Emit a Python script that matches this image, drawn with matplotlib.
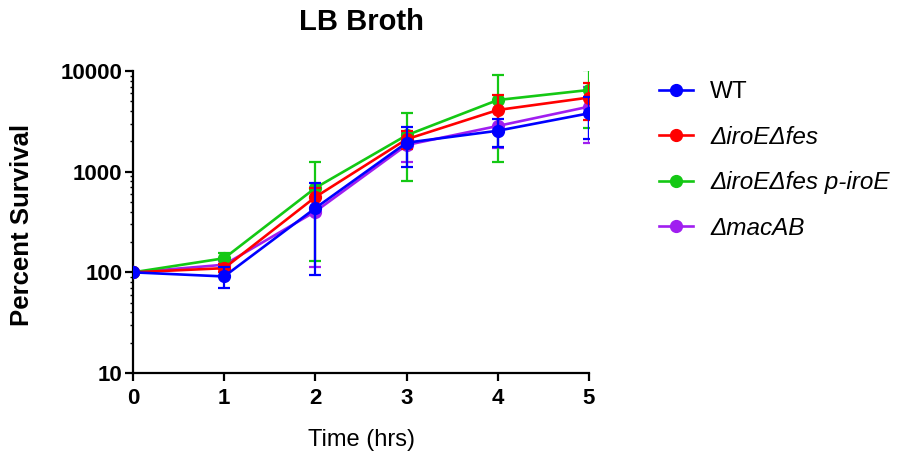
import matplotlib
matplotlib.use("Agg")
import matplotlib.pyplot as plt
from matplotlib.ticker import FixedLocator, FixedFormatter, LogLocator, NullFormatter
from matplotlib.lines import Line2D
import numpy as np

plt.rcParams['font.family'] = ['Liberation Sans', 'DejaVu Sans']

time_hrs = [0, 1, 2, 3, 4, 5]
series_names = ["WT", "ΔiroEΔfes", "ΔiroEΔfes p-iroE", "ΔmacAB"]
wt_mean = [100, 91, 435, 1940, 2550, 3800]
wt_sd = [0, 21, 340, 820, 800, 1700]
dfes_mean = [100, 110, 560, 2100, 4100, 5450]
dfes_sd = [0, 10, 125, 420, 1680, 2200]
comp_mean = [100, 138, 690, 2300, 5150, 6480]
comp_sd = [0, 17, 560, 1500, 3900, 3760]
mac_mean = [100, 119, 402, 1840, 2845, 4425]
mac_sd = [0, 10, 290, 585, 1110, 2495]
y_ticks = [10, 100, 1000, 10000]
y_tick_labels = ["10", "100", "1000", "10000"]
x_tick_labels = ["0", "1", "2", "3", "4", "5"]

colors = ["#0000FF", "#FF0000", "#14C814", "#A01EF0"]
means = [wt_mean, dfes_mean, comp_mean, mac_mean]
sds = [wt_sd, dfes_sd, comp_sd, mac_sd]

fig = plt.figure(figsize=(9.01, 4.68), dpi=100)
ax = fig.add_axes([133/901, 1-373/468, 456/901, 302/468])

for i in [3, 2, 1, 0]:
    m = np.array(means[i], dtype=float)
    s = np.array(sds[i], dtype=float)
    low = np.minimum(s, m - 1e-3)
    ax.errorbar(time_hrs, m, yerr=[low, s], color=colors[i], lw=1.9,
                marker='o', ms=8.5, capsize=4.3, capthick=1.6, elinewidth=1.6,
                zorder=3 + (3 - i), clip_on=True)

ax.set_yscale('log')
ax.set_ylim(10, 10000)
ax.set_xlim(0, 5)
ax.yaxis.set_major_locator(FixedLocator(y_ticks))
ax.yaxis.set_major_formatter(FixedFormatter(y_tick_labels))
ax.yaxis.set_minor_locator(LogLocator(base=10, subs=np.arange(2, 10)))
ax.yaxis.set_minor_formatter(NullFormatter())
ax.set_xticks(time_hrs)
ax.set_xticklabels(x_tick_labels)

for sp in ['top', 'right']:
    ax.spines[sp].set_visible(False)
for sp in ['left', 'bottom']:
    ax.spines[sp].set_linewidth(1.6)
ax.tick_params(axis='both', which='major', length=5.5, width=1.6, labelsize=16)
ax.tick_params(axis='y', which='major', pad=2)
ax.tick_params(axis='x', which='major', pad=5)
ax.tick_params(axis='y', which='minor', length=2.2, width=1.0)
for lab in ax.get_xticklabels() + ax.get_yticklabels():
    lab.set_fontweight('bold')

fig.text(361/901, 1-22/468, "LB Broth", ha='center', va='center', fontsize=21, fontweight='bold')
fig.text(22/901, 1-225/468, "Percent Survival", ha='center', va='center', rotation=90,
         fontsize=18.5, fontweight='bold')
fig.text(362/901, 1-440/468, "Time (hrs)", ha='center', va='center', fontsize=17)

proxies = [Line2D([], [], color=c, lw=1.9, marker='o', ms=8.5) for c in colors]
leg = fig.legend(proxies, series_names,
                 loc='upper left', bbox_to_anchor=(659/901, 1-81/468), frameon=False,
                 fontsize=17.5, handlelength=1.4, handletextpad=0.7, labelspacing=0.93,
                 borderaxespad=0, borderpad=0)
for i, t in enumerate(leg.get_texts()):
    if i > 0:
        t.set_fontstyle('italic')

fig.savefig("out.png", dpi=100)
